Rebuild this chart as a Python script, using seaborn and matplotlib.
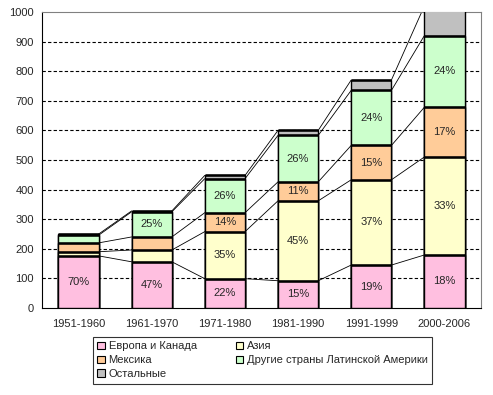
import numpy as np
import pandas as pd
import matplotlib
matplotlib.use("Agg")
import matplotlib.pyplot as plt
import seaborn as sns
from matplotlib.patches import Patch

# === данные ===
periods = ["1951-1960", "1961-1970", "1971-1980", "1981-1990", "1991-1999", "2000-2006"]
series = ["Европа и Канада", "Азия", "Мексика", "Другие страны Латинской Америки", "Остальные"]
europe = [176, 156, 99, 92, 145, 179]
asia = [14, 40, 159, 270, 288, 331]
mexico = [30, 44, 64, 64, 116, 168]
latin = [26, 85, 115, 157, 186, 242]
others = [4, 3, 11, 17, 35, 100]
pct_europe = ["70%", "47%", "22%", "15%", "19%", "18%"]
pct_asia = ["", "", "35%", "45%", "37%", "33%"]
pct_mexico = ["", "", "14%", "11%", "15%", "17%"]
pct_latin = ["", "25%", "26%", "26%", "24%", "24%"]
colors = ["#FFBFE0", "#FFFFCC", "#FFCC99", "#CCFFCC", "#C0C0C0"]

layers = [europe, asia, mexico, latin, others]
cum = np.cumsum(np.array(layers), axis=0)
labels = [pct_europe, pct_asia, pct_mexico, pct_latin]

sns.set_style("white")
plt.rcParams["font.family"] = ["Liberation Sans", "DejaVu Sans"]
plt.rcParams["font.size"] = 8

fig = plt.figure(figsize=(4.93, 3.95), dpi=100)
ax = fig.add_axes([0.0852, 0.2203, 0.8905, 0.7493])

bw = 0.55
# рисуем накопленные суммы сверху вниз, чтобы получить штабель
for k in range(len(layers) - 1, -1, -1):
    df = pd.DataFrame({"period": periods, "value": cum[k]})
    sns.barplot(data=df, x="period", y="value", color=colors[k], width=bw,
                edgecolor="black", linewidth=1.0, saturation=1, ax=ax, zorder=3)

x = np.arange(len(periods))
# толстые границы сегментов
for k in range(len(layers)):
    ax.hlines(cum[k], x - bw / 2, x + bw / 2, color="black", lw=1.8, zorder=4)

# линии между столбцами
for k in range(len(layers)):
    for i in range(len(periods) - 1):
        ax.plot([x[i] + bw / 2, x[i + 1] - bw / 2], [cum[k][i], cum[k][i + 1]],
                color="black", lw=0.6, zorder=2)

# подписи процентов
for k, lab in enumerate(labels):
    bottom = cum[k - 1] if k > 0 else np.zeros(len(periods))
    for i, t in enumerate(lab):
        if t:
            ax.text(x[i], (bottom[i] + cum[k][i]) / 2, t, ha="center", va="center",
                    fontsize=8, zorder=5)

ax.set_ylim(0, 1000)
ax.set_xlim(-0.5, 5.5)
ax.set_yticks(range(0, 1001, 100))
for yv in range(100, 1000, 100):
    ax.axhline(yv, color="black", lw=0.8, ls=(0, (3, 2)), zorder=1)

ax.set_xticks(x)
ax.set_xticklabels(periods)
ax.set_xticks(np.arange(-0.5, 6, 1), minor=True)
ax.tick_params(axis="x", which="major", length=0, pad=8, labelsize=8)
ax.tick_params(axis="x", which="minor", length=4, color="black", width=0.8, direction="out")
ax.tick_params(axis="y", length=4, color="black", width=0.8, direction="out", labelsize=8, pad=2)
ax.set_xlabel("")
ax.set_ylabel("")

for s in ["top", "right"]:
    ax.spines[s].set_color("#808080")
    ax.spines[s].set_linewidth(0.8)
for s in ["left", "bottom"]:
    ax.spines[s].set_color("black")
    ax.spines[s].set_linewidth(0.8)

order = [0, 2, 4, 1, 3]
handles = [Patch(facecolor=colors[j], edgecolor="black", linewidth=0.8) for j in order]
leg = fig.legend(handles, [series[j] for j in order], ncol=2, loc="upper left",
                 bbox_to_anchor=(0.1886, 0.1468), frameon=True, fancybox=False,
                 edgecolor="black", fontsize=8, handlelength=0.7, handleheight=0.7,
                 handletextpad=0.3, columnspacing=3.5, labelspacing=0.35,
                 borderpad=0.4, borderaxespad=0)
leg.get_frame().set_linewidth(0.8)

fig.savefig("out.png", dpi=100)
